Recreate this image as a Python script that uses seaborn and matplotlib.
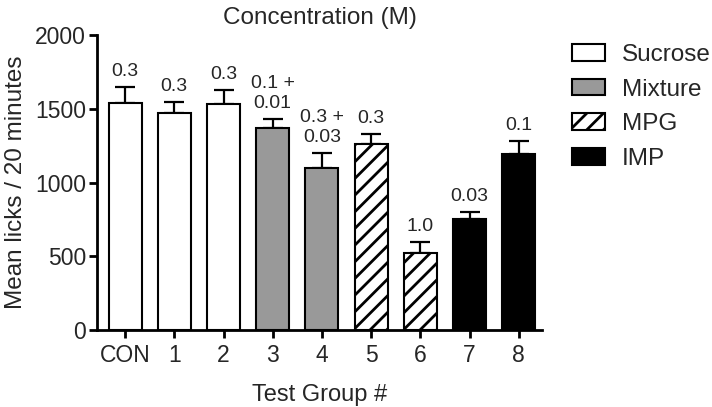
import matplotlib
matplotlib.use("Agg")
import matplotlib.pyplot as plt
import seaborn as sns
import pandas as pd
import numpy as np
from matplotlib.patches import Patch

# ---- data ----
groups = ["CON", "1", "2", "3", "4", "5", "6", "7", "8"]
means = [1537, 1473, 1534, 1367, 1096, 1259, 520, 753, 1191]
sems = [108, 73, 93, 64, 106, 68, 79, 45, 92]
solutions = ["Sucrose", "Sucrose", "Sucrose", "Mixture", "Mixture", "MPG", "MPG", "IMP", "IMP"]
conc_labels = ["0.3", "0.3", "0.3", "0.1 +\n0.01", "0.3 +\n0.03", "0.3", "1.0", "0.03", "0.1"]
legend_order = ["Sucrose", "Mixture", "MPG", "IMP"]

face = {"Sucrose": "white", "Mixture": "#999999", "MPG": "white", "IMP": "black"}
hatch = {"Sucrose": "", "Mixture": "", "MPG": "//", "IMP": ""}

df = pd.DataFrame({"group": groups, "mean": means, "sem": sems, "solution": solutions})

sns.set_style("ticks")
plt.rcParams["font.family"] = ["Liberation Sans", "DejaVu Sans"]
plt.rcParams["hatch.linewidth"] = 2.0
plt.rcParams["hatch.color"] = "black"

fig = plt.figure(figsize=(7.12, 4.07), dpi=100)
ax = fig.add_axes([97 / 712, 77 / 407, 445 / 712, 295 / 407])

sns.barplot(data=df, x="group", y="mean", color="white", width=0.67,
            edgecolor="black", linewidth=1.5, ax=ax, errorbar=None, zorder=3)

for patch, sol in zip(ax.patches, solutions):
    patch.set_facecolor(face[sol])
    patch.set_hatch(hatch[sol])
    patch.set_edgecolor("black")

xs = np.arange(len(groups))
ax.errorbar(xs, means, yerr=[np.zeros(len(sems)), sems], fmt="none",
            ecolor="black", elinewidth=1.6, capsize=7, capthick=1.6, zorder=2)

for x, m, s, lab in zip(xs, means, sems, conc_labels):
    ax.annotate(lab, (x, m + s), xytext=(0, 5), textcoords="offset points",
                ha="center", va="bottom", fontsize=14, linespacing=1.2)

ax.set_ylim(0, 2000)
ax.set_xlim(-0.57, 8.47)
ax.set_yticks([0, 500, 1000, 1500, 2000])
sns.despine(ax=ax)
for sp in ["left", "bottom"]:
    ax.spines[sp].set_linewidth(2)
    ax.spines[sp].set_color("black")
ax.tick_params(axis="both", width=2, length=6, labelsize=16.5, color="black")
ax.tick_params(axis="x", pad=4)
ax.tick_params(axis="y", pad=2)

ax.set_xlabel("Test Group #", fontsize=17, labelpad=12)
ax.set_ylabel("Mean licks / 20 minutes", fontsize=17.5, labelpad=6)
ax.set_title("Concentration (M)", fontsize=17.5, pad=8)

handles = [Patch(facecolor=face[s], edgecolor="black", hatch=hatch[s], linewidth=1.5)
           for s in legend_order]
fig.legend(handles, legend_order, loc="upper left", bbox_to_anchor=(572 / 712, 1 - 44 / 407),
           frameon=False, fontsize=17.5, handlelength=1.35, handleheight=0.68,
           handletextpad=0.7, labelspacing=0.52, borderpad=0, borderaxespad=0)

fig.savefig("out.png", dpi=100)
